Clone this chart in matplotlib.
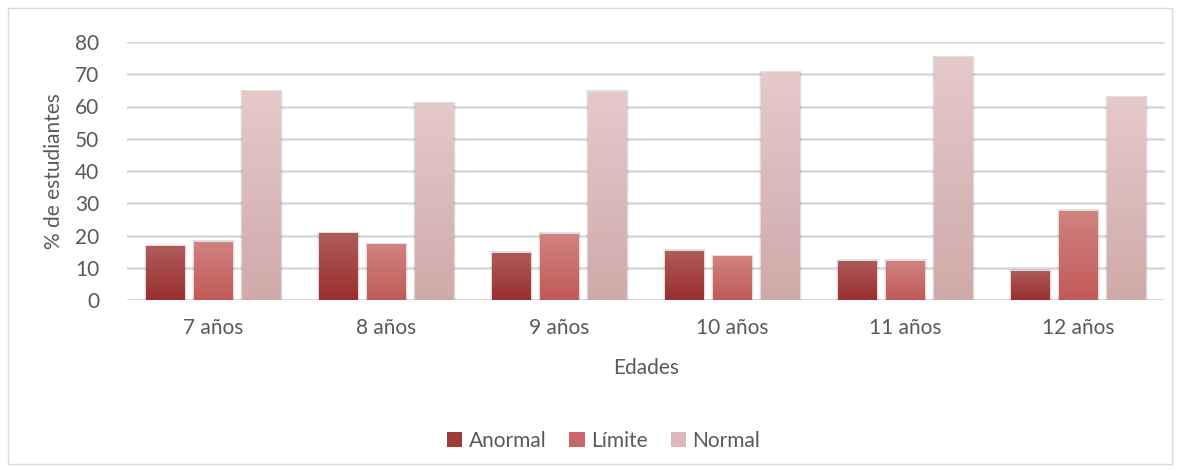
import numpy as np
import matplotlib.pyplot as plt
from matplotlib.patches import Rectangle
from matplotlib.colors import LinearSegmentedColormap

plt.rcParams["font.family"] = ["Lato", "DejaVu Sans"]

ages = ["7 años", "8 años", "9 años", "10 años", "11 años", "12 años"]
anormal = [16.7, 20.7, 14.6, 15.2, 12.1, 9.0]
limite = [18.0, 17.3, 20.5, 13.6, 12.1, 27.6]
normal = [64.7, 61.0, 64.6, 70.6, 75.2, 62.8]

series = [
    ("Anormal", anormal, "#a33a3a", "#ae5c5a", "#9a2f2f"),
    ("Límite", limite, "#c96866", "#d08380", "#c15a58"),
    ("Normal", normal, "#dcb8b8", "#e6c9c9", "#cfaaa9"),
]

fig = plt.figure(figsize=(11.8, 4.7), dpi=100)
fig.patches.append(Rectangle((8 / 1180, 6 / 470), 1164 / 1180, 456 / 470,
                             transform=fig.transFigure, fill=False,
                             edgecolor="#d9d9d9", linewidth=1))
ax = fig.add_axes([127 / 1180, 170 / 470, 1038 / 1180, 258 / 470])

x = np.arange(len(ages))
width = 0.225
step = 0.277
grey = "#595959"
fs = 15

for i, (name, vals, col, top, bot) in enumerate(series):
    cmap = LinearSegmentedColormap.from_list(name, [bot, top])
    pos = x + (i - 1) * step
    bars = ax.bar(pos, vals, width, color=col, label=name, zorder=3)
    for b in bars:
        # soft shadow
        for k, a in [(0.014, 0.05), (0.008, 0.08)]:
            ax.add_patch(Rectangle((b.get_x() - k, 0), b.get_width() + 2 * k,
                                   b.get_height() + 0.5, color="#000000",
                                   alpha=a, zorder=2, linewidth=0))
        grad = np.linspace(0, 1, 100).reshape(-1, 1)
        im = ax.imshow(grad, cmap=cmap, origin="lower", aspect="auto",
                       extent=[b.get_x(), b.get_x() + b.get_width(), 0, b.get_height()],
                       zorder=4)
        im.set_clip_path(b)

ax.set_xlim(-0.5, len(ages) - 0.5)
ax.set_ylim(0, 80)
ax.set_yticks(range(0, 81, 10))
ax.set_xticks(x)
ax.set_xticklabels(ages)
ax.grid(axis="y", color="#d9d9d9", linewidth=1.8, zorder=0)
for s in ax.spines.values():
    s.set_visible(False)
ax.axhline(0, color="#d9d9d9", linewidth=1.8, zorder=1)
ax.tick_params(axis="both", length=0, labelsize=fs, colors=grey)
ax.tick_params(axis="y", pad=20)
ax.tick_params(axis="x", pad=13)
ax.set_xlabel("Edades", fontsize=fs, color=grey, labelpad=14)
ax.set_ylabel("% de estudiantes", fontsize=fs, color=grey, labelpad=8)

leg = ax.legend(loc="upper center", bbox_to_anchor=(0.459, -0.435), ncol=3,
                frameon=False, fontsize=fs, handlelength=0.75, handleheight=0.75,
                handletextpad=0.3, columnspacing=1.1)
for t in leg.get_texts():
    t.set_color(grey)

fig.savefig("out.png", dpi=100)
